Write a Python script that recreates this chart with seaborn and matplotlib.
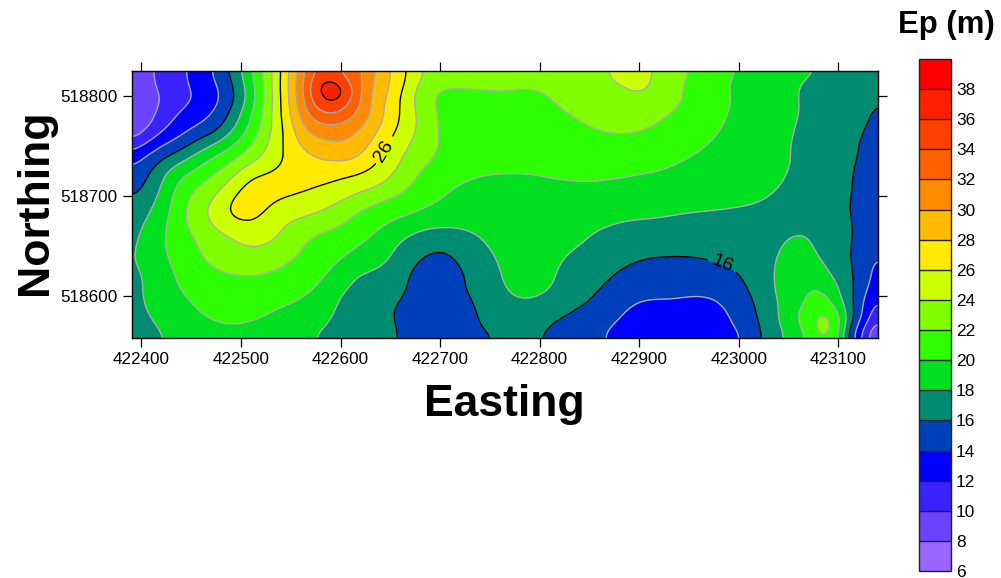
# Ep (m) contour map, Easting / Northing
import numpy as np
import seaborn as sns
import matplotlib.pyplot as plt
import matplotlib.tri as mtri
from matplotlib.colors import ListedColormap, BoundaryNorm

# grid nodes
eastings = [422390, 422410, 422440, 422470, 422500, 422530, 422560, 422590, 422620, 422650,
            422680, 422710, 422740, 422770, 422800, 422830, 422860, 422890, 422920, 422950,
            422980, 423010, 423040, 423070, 423086, 423100, 423115, 423130, 423140]
northings = [518825, 518803, 518775, 518745, 518715, 518685, 518655, 518625, 518597, 518569, 518557]

# Ep values, one list per northing
ep_518825 = [8.7, 9.9, 11.7, 14.0, 18.1, 23.7, 31.0, 33.6, 32.1, 27.9, 24.3, 23.4, 23.1, 23.0, 23.0,
             23.2, 23.6, 24.9, 23.6, 22.1, 20.8, 19.6, 18.9, 18.3, 17.9, 17.5, 17.1, 16.9, 16.7]
ep_518803 = [8.6, 9.5, 11.4, 13.2, 17.1, 23.6, 31.4, 37.2, 32.2, 27.6, 23.3, 21.7, 21.8, 21.85, 21.9,
             22.8, 23.3, 23.9, 23.5, 21.6, 20.4, 19.4, 18.7, 17.6, 17.2, 17.0, 16.7, 16.4, 16.1]
ep_518775 = [7.9, 9.9, 12.7, 14.5, 18.5, 23.8, 29.8, 32.6, 30.7, 27.0, 23.6, 21.3, 21.0, 20.9, 21.1,
             21.7, 22.5, 22.7, 22.0, 21.0, 20.2, 19.2, 18.5, 17.6, 17.1, 16.8, 16.5, 16.0, 15.6]
ep_518745 = [11.9, 13.8, 16.3, 18.9, 21.5, 24.7, 27.6, 29.0, 28.3, 25.3, 23.0, 21.4, 20.8, 20.5, 20.4,
             20.5, 20.8, 21.0, 20.8, 20.2, 19.6, 19.0, 18.4, 17.4, 17.0, 16.6, 16.2, 15.6, 15.3]
ep_518715 = [14.9, 16.6, 20.2, 22.4, 25.4, 26.6, 26.5, 26.1, 25.2, 23.7, 21.5, 20.3, 19.85, 19.8, 19.9,
             20.02, 20.02, 19.85, 19.6, 19.3, 19.0, 18.7, 18.1, 17.5, 17.1, 16.6, 16.0, 15.2, 14.9]
ep_518685 = [16.9, 18.05, 21.5, 24.4, 26.6, 25.7, 24.6, 23.6, 22.0, 20.8, 19.95, 19.3, 19.0, 18.9, 18.9,
             18.8, 18.7, 18.5, 18.35, 18.1, 17.95, 17.8, 17.5, 17.1, 16.8, 16.4, 15.9, 14.9, 14.6]
ep_518655 = [17.5, 18.9, 21.1, 22.9, 24.2, 24.05, 22.3, 21.3, 20.2, 18.7, 17.1, 16.8, 17.85, 18.9, 18.9,
             18.3, 17.7, 17.1, 16.8, 16.7, 16.8, 17.2, 17.8, 18.1, 17.4, 16.8, 15.9, 15.2, 14.4]
ep_518625 = [17.6, 18.6, 20.5, 21.8, 22.3, 22.05, 21.3, 19.9, 18.2, 17.4, 15.5, 15.5, 16.8, 18.5, 18.7,
             17.5, 16.7, 15.7, 15.3, 15.3, 15.6, 16.6, 18.2, 18.8, 18.3, 17.2, 15.95, 14.3, 13.3]
ep_518597 = [17.2, 18.5, 19.8, 20.6, 20.9, 20.6, 20.0, 18.6, 17.1, 16.6, 14.9, 15.2, 16.4, 17.8, 17.85,
             16.9, 15.6, 14.3, 14.0, 13.9, 14.1, 15.7, 18.1, 20.2, 20.4, 18.6, 16.0, 13.3, 11.9]
ep_518569 = [16.6, 17.7, 19.1, 19.8, 19.9, 19.5, 18.7, 17.8, 16.8, 16.3, 14.9, 14.9, 15.95, 16.9, 16.4,
             15.2, 14.3, 13.6, 13.4, 13.3, 13.4, 15.0, 17.8, 21.0, 22.8, 20.6, 15.0, 11.2, 8.2]
ep_518557 = [16.2, 17.3, 18.7, 19.4, 19.5, 19.1, 18.4, 17.4, 16.6, 16.4, 14.9, 14.8, 15.4, 16.4, 16.0,
             15.0, 14.2, 13.2, 13.0, 12.9, 13.1, 14.6, 17.6, 20.3, 21.4, 19.9, 14.0, 9.6, 6.8]

levels = [6, 8, 10, 12, 14, 16, 18, 20, 22, 24, 26, 28, 30, 32, 34, 36, 38, 40]
black_levels = [16, 26, 36]
band_colors = ['#9966FF', '#6A44FF', '#3A22FF', '#0000FF', '#0040BB', '#008C70', '#00E020', '#2EFF00', '#80FF00',
               '#CCFF00', '#FFEA00', '#FFBB00', '#FF8C00', '#FF6000', '#FF4000', '#FF2000', '#FF0000']
colorbar_ticks = [6, 8, 10, 12, 14, 16, 18, 20, 22, 24, 26, 28, 30, 32, 34, 36, 38]
x_ticks = [422400, 422500, 422600, 422700, 422800, 422900, 423000, 423100]
y_ticks = [518600, 518700, 518800]

ep = np.array([ep_518825, ep_518803, ep_518775, ep_518745, ep_518715, ep_518685,
               ep_518655, ep_518625, ep_518597, ep_518569, ep_518557])


def soften(z, sigma=3.0):
    # gaussian along both axes, edges mirrored, numpy only
    r = int(3 * sigma)
    kernel = np.exp(-0.5 * (np.arange(-r, r + 1) / sigma) ** 2)
    kernel = kernel / kernel.sum()
    z = np.pad(z, r, mode='reflect')
    z = np.apply_along_axis(lambda v: np.convolve(v, kernel, mode='same'), 0, z)
    z = np.apply_along_axis(lambda v: np.convolve(v, kernel, mode='same'), 1, z)
    return z[r:-r, r:-r]


sns.set_theme(style='white')
plt.rcParams['font.family'] = ['Liberation Sans', 'DejaVu Sans']

W, H = 1001, 578
fig = plt.figure(figsize=(W / 100, H / 100), dpi=100)
ax = fig.add_axes([131.5 / W, 1 - 338 / H, (878 - 131.5) / W, (338 - 71.4) / H])

cmap = ListedColormap(sns.color_palette(band_colors))
norm = BoundaryNorm(levels, cmap.N)

# the grid above stays as read, only the drawn surface is made smooth
xx, yy = np.meshgrid(eastings, northings)
mesh = mtri.Triangulation(xx.ravel() - eastings[0], yy.ravel() - northings[-1])
surface = mtri.CubicTriInterpolator(mesh, ep.ravel(), kind='min_E')
fx = np.linspace(0.01, eastings[-1] - eastings[0] - 0.01, 376)
fy = np.linspace(0.01, northings[0] - northings[-1] - 0.01, 135)
fxx, fyy = np.meshgrid(fx, fy)
fine_ep = np.clip(soften(np.ma.filled(surface(fxx, fyy), 16.0)), 6.01, 39.9)
fx = fx + eastings[0]
fy = fy + northings[-1]

filled = ax.contourf(fx, fy, fine_ep, levels=levels, cmap=cmap, norm=norm)
gray_levels = [l for l in levels if l not in black_levels]
ax.contour(fx, fy, fine_ep, levels=gray_levels, colors='#ABABAB', linewidths=1.0)
lines = ax.contour(fx, fy, fine_ep, levels=black_levels, colors='black', linewidths=1.0)

# only two of the black lines carry a label
ax.clabel(lines, levels=[16, 26], fmt='%d', fontsize=14, colors='black', inline=True,
          manual=[(422642, 518746), (422983, 518629)])

ax.set_xlim(422390, 423140)
ax.set_ylim(518557.5, 518825)
ax.set_xticks(x_ticks)
ax.set_yticks(y_ticks)
ax.ticklabel_format(useOffset=False, style='plain')
ax.tick_params(axis='both', which='major', direction='out', length=6.8, width=0.9, color='black',
               top=True, right=True, bottom=True, left=True, labelsize=12.3, labelcolor='black')
ax.tick_params(axis='x', pad=3)
ax.tick_params(axis='y', pad=3)
for sp in ax.spines.values():
    sp.set_visible(True)
    sp.set_color('black')
    sp.set_linewidth(1.0)

ax.set_xlabel('Easting', fontsize=32, fontweight='bold', color='black', labelpad=12.5)
ax.set_ylabel('Northing', fontsize=32, fontweight='bold', color='black', labelpad=3, y=0.508)

# colour bar on the right
cax = fig.add_axes([919 / W, 1 - 571 / H, 32 / W, 512 / H])
cb = fig.colorbar(filled, cax=cax, ticks=colorbar_ticks, drawedges=True)
cb.dividers.set_color('#222222')
cb.dividers.set_linewidth(1.0)
cb.outline.set_edgecolor('#222222')
cb.outline.set_linewidth(1.0)
cb.ax.minorticks_off()
cb.ax.tick_params(length=0, labelsize=12.4, labelcolor='black', pad=3.5)

fig.text(946 / W, 1 - 25 / H, 'Ep (m)', fontsize=22.4, fontweight='bold', color='black', ha='center', va='center')

plt.savefig('out.png', dpi=100)
